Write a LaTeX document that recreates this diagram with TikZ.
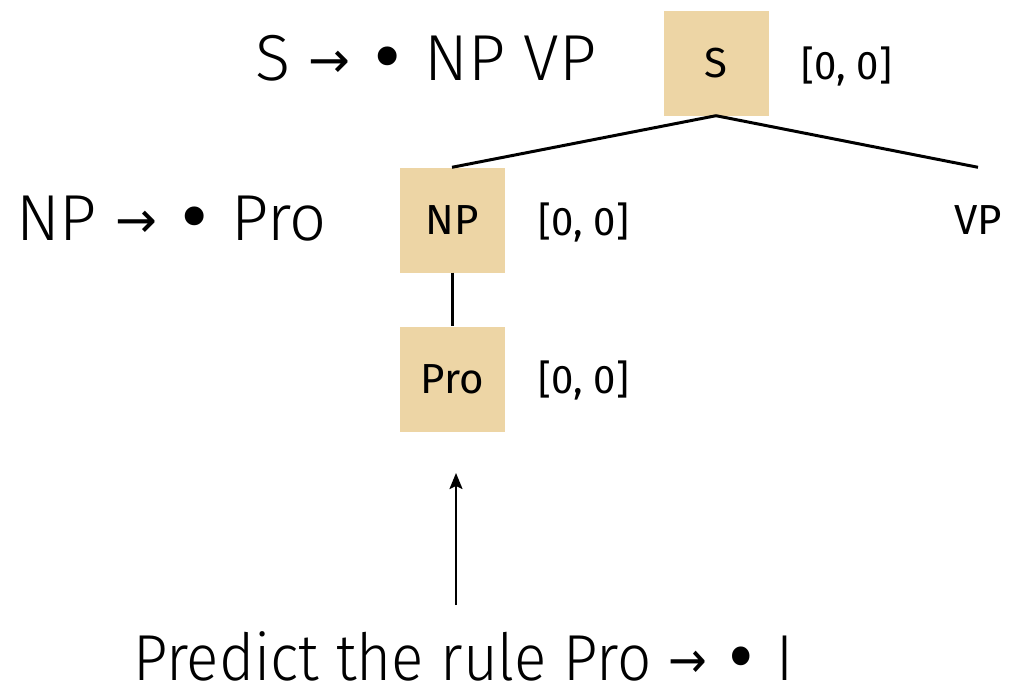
\documentclass[tikz,border=0pt]{standalone}
\usepackage{fontspec}
\setmainfont{Fira Sans}
\newfontfamily\lightfont{Fira Sans Light}
\newfontfamily\symfont{DejaVu Sans}
\newcommand{\rar}{\raisebox{3pt}{\symfont\fontsize{50}{54}\selectfont →}}
\newcommand{\bul}{{\symfont •}}
\usetikzlibrary{arrows.meta}
\definecolor{boxtan}{HTML}{EDD5A5}
\begin{document}
\begin{tikzpicture}[x=1pt,y=-1pt,
  cat/.style={fill=boxtan,draw=none,minimum width=105pt,minimum height=105pt,inner sep=0pt,font=\fontsize{42}{46}\selectfont},
  plain/.style={minimum width=50pt,minimum height=105pt,inner sep=0pt,font=\fontsize{42}{46}\selectfont},
  span/.style={inner sep=0pt,font=\fontsize{40}{44}\selectfont},
  rule/.style={inner sep=0pt,anchor=base west,font=\lightfont\fontsize{65}{70}\selectfont},
  edge/.style={line width=3pt},
  arr/.style={line width=2pt,-{Stealth[length=16pt,width=13pt,inset=3pt]}}]
\useasboundingbox (0,0) rectangle (1009,688);
\node[cat] (S) at (716,63) {S};
\node[span] (sS) at (847,66) {[0, 0]};
\node[rule] (rS) at (255,80) {S \rar{} \bul{} NP VP};
\node[cat] (NP) at (452,220) {NP};
\node[span] (sNP) at (584,222) {[0, 0]};
\node[rule] (rNP) at (16,240) {NP \rar{} \bul{} Pro};
\node[plain] (VP) at (978,220) {VP};
\node[cat] (Pro) at (452,379) {Pro};
\node[span] (sPro) at (584,380) {[0, 0]};
\node[rule] (pred) at (133,680) {\scalebox{0.925}[1]{Predict the rule Pro \rar{} \bul{} I}};
\coordinate (a0) at (456,605);
\coordinate (a1) at (456,473);
\draw[edge] (S.south) -- (NP.north);
\draw[edge] (S.south) -- (VP.north);
\draw[edge] (NP.south) -- (Pro.north);
\draw[arr] (a0) -- (a1);
\end{tikzpicture}
\end{document}
